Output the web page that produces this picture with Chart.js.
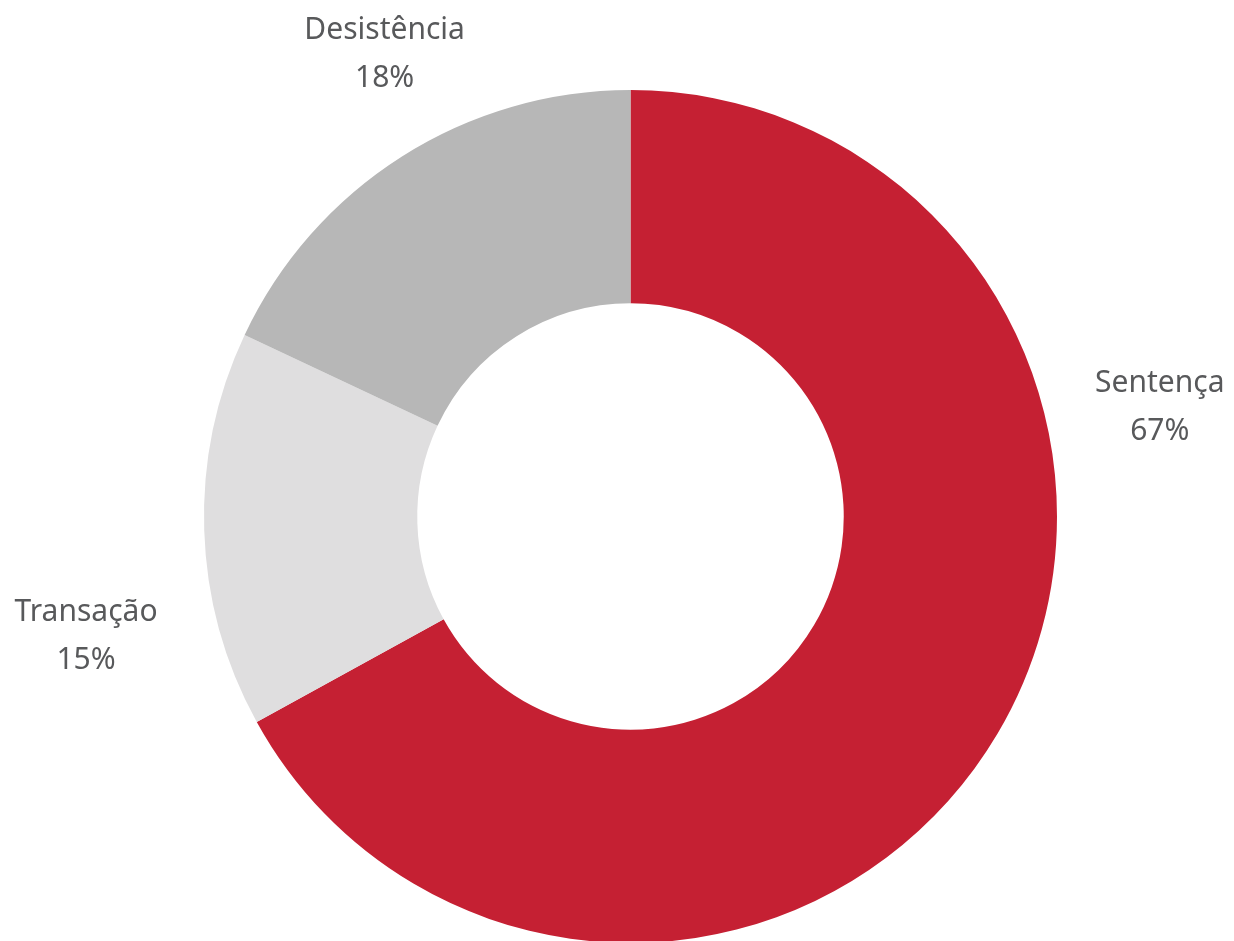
<!DOCTYPE html>
<html lang="pt">
<head>
    <meta charset="UTF-8">
    <title>Desfecho dos processos</title>
    <script src="https://cdn.jsdelivr.net/npm/chart.js"></script>
    <style>
        html, body {
            margin: 0;
            padding: 0;
            background: #ffffff;
            overflow: hidden;
        }
        .chart-container {
            position: relative;
            width: 1234px;
            height: 943px;
        }
    </style>
</head>
<body>
    <div class="chart-container">
        <canvas id="outcomeChart"></canvas>
    </div>
    <script>
        // Values
        const categories = ["Sentença", "Transação", "Desistência"];
        const shares = [67, 15, 18];
        const sliceColors = ["#c52033", "#dfdedf", "#b7b7b7"];

        // where each label sits: angle (deg, clockwise from top) and distance in outer radii
        const labelAngles = [78.4, 257.6, 332];
        const labelDistances = [1.267, 1.307, 1.228];

        const outsideLabels = {
            id: 'outsideLabels',
            afterDatasetsDraw(chart) {
                const ctx = chart.ctx;
                const meta = chart.getDatasetMeta(0);
                ctx.save();
                ctx.font = '30px "Noto Sans"';
                ctx.fillStyle = '#58595b';
                ctx.textAlign = 'center';
                ctx.textBaseline = 'middle';
                meta.data.forEach((arc, i) => {
                    const a = labelAngles[i] * Math.PI / 180;
                    const r = arc.outerRadius * labelDistances[i];
                    const x = arc.x + Math.sin(a) * r;
                    const y = arc.y - Math.cos(a) * r;
                    ctx.fillText(categories[i], x, y - 24);
                    ctx.fillText(shares[i] + '%', x, y + 24);
                });
                ctx.restore();
            }
        };

        const ctx = document.getElementById('outcomeChart').getContext('2d');
        new Chart(ctx, {
            type: 'doughnut',
            data: {
                labels: categories,
                datasets: [{
                    data: shares,
                    backgroundColor: sliceColors,
                    borderWidth: 0
                }]
            },
            options: {
                responsive: true,
                maintainAspectRatio: false,
                animation: false,
                cutout: '50%',
                layout: {
                    padding: { top: 90, left: 27, right: 0, bottom: 0 }
                },
                plugins: {
                    legend: { display: false },
                    tooltip: { enabled: false }
                }
            },
            plugins: [outsideLabels]
        });
    </script>
</body>
</html>
